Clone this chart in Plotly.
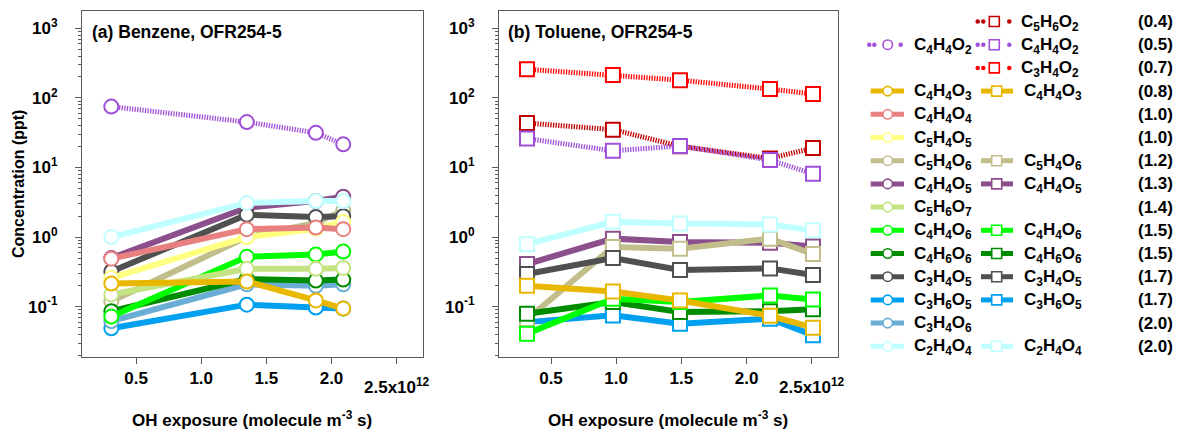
import re
import plotly.graph_objects as go

# ---------------- data ----------------
# Panel (a) Benzene, OFR254-5 : OH exposure (1e12 molecule cm-3 s)
x_benzene = [0.31, 1.35, 1.88, 2.09]
a_C4H4O2 = [75, 45, 31.5, 21.5]
a_C2H4O4 = [1.0, 3.1, 3.3, 3.3]
a_C4H4O5 = [0.50, 2.65, 3.3, 3.8]
a_C3H4O5 = [0.32, 2.1, 1.95, 2.0]
a_C5H4O6 = [0.12, 1.0, 1.6, 2.4]
a_C4H4O4 = [0.49, 1.3, 1.37, 1.3]
a_C5H4O5 = [0.26, 1.0, 1.32, 1.65]
a_C5H6O7 = [0.15, 0.35, 0.35, 0.36]
a_C4H4O6 = [0.072, 0.52, 0.56, 0.62]
a_C4H4O3 = [0.215, 0.23, 0.123, 0.094]
a_C4H6O6 = [0.086, 0.25, 0.237, 0.245]
a_C3H4O6 = [0.062, 0.21, 0.20, 0.21]
a_C3H6O5 = [0.049, 0.107, 0.097, 0.094]

# Panel (b) Toluene, OFR254-5
x_toluene = [0.316, 0.975, 1.49, 2.18, 2.51]
b_C5H6O2 = [43.5, 35, 20.2, 13.5, 19]
b_C4H4O2 = [26, 17.4, 20.4, 12.8, 8.1]
b_C3H4O2 = [258, 214, 180, 134, 114]
b_C4H4O3 = [0.20, 0.165, 0.123, 0.074, 0.05]
b_C5H4O6 = [0.066, 0.72, 0.68, 0.95, 0.57]
b_C4H4O5 = [0.41, 0.95, 0.85, 0.83, 0.73]
b_C4H4O6 = [0.041, 0.13, 0.117, 0.145, 0.127]
b_C4H6O6 = [0.079, 0.117, 0.084, 0.086, 0.092]
b_C3H4O5 = [0.295, 0.5, 0.336, 0.355, 0.285]
b_C3H6O5 = [0.060, 0.075, 0.057, 0.067, 0.039]
b_C2H4O4 = [0.79, 1.66, 1.57, 1.52, 1.25]

legend_formulas = ["C5H6O2", "C4H4O2", "C3H4O2", "C4H4O3", "C4H4O4", "C5H4O5",
                   "C5H4O6", "C4H4O5", "C5H6O7", "C4H4O6", "C4H6O6", "C3H4O5",
                   "C3H6O5", "C3H4O6", "C2H4O4"]
legend_numbers = ["(0.4)", "(0.5)", "(0.7)", "(0.8)", "(1.0)", "(1.0)", "(1.2)",
                  "(1.3)", "(1.4)", "(1.5)", "(1.5)", "(1.7)", "(1.7)", "(2.0)", "(2.0)"]

x_ticks = [0.5, 1.0, 1.5, 2.0, 2.5]
x_ticktext = ["0.5", "1.0", "1.5", "2.0", ""]
y_ticks = [0.1, 1, 10, 100, 1000]
y_ticktext = ["10<sup>-1</sup>", "10<sup>0</sup>", "10<sup>1</sup>", "10<sup>2</sup>", "10<sup>3</sup>"]

# ---------------- styles ----------------
colors = {
    "C5H6O2": "#C00000", "C4H4O2": "#A050D8", "C3H4O2": "#FF0000",
    "C4H4O3": "#E8B800", "C4H4O4": "#E88080", "C5H4O5": "#FFFF80",
    "C5H4O6": "#C2BE8C", "C4H4O5": "#8B4F8B", "C5H6O7": "#C4E484",
    "C4H4O6": "#00FF00", "C4H6O6": "#008C00", "C3H4O5": "#505050",
    "C3H6O5": "#00A0F0", "C3H4O6": "#6AAED6", "C2H4O4": "#C0FFFF",
}
dotted_species = {"C5H6O2", "C4H4O2", "C3H4O2"}

benzene = {"C4H4O2": a_C4H4O2, "C2H4O4": a_C2H4O4, "C4H4O5": a_C4H4O5,
           "C3H4O5": a_C3H4O5, "C5H4O6": a_C5H4O6, "C4H4O4": a_C4H4O4,
           "C5H4O5": a_C5H4O5, "C5H6O7": a_C5H6O7, "C4H4O6": a_C4H4O6,
           "C4H4O3": a_C4H4O3, "C4H6O6": a_C4H6O6, "C3H4O6": a_C3H4O6,
           "C3H6O5": a_C3H6O5}
toluene = {"C5H6O2": b_C5H6O2, "C4H4O2": b_C4H4O2, "C3H4O2": b_C3H4O2,
           "C4H4O3": b_C4H4O3, "C5H4O6": b_C5H4O6, "C4H4O5": b_C4H4O5,
           "C4H4O6": b_C4H4O6, "C4H6O6": b_C4H6O6, "C3H4O5": b_C3H4O5,
           "C3H6O5": b_C3H6O5, "C2H4O4": b_C2H4O4}

order_a = ["C3H6O5", "C3H4O6", "C5H4O6", "C4H6O6", "C4H4O6", "C5H6O7", "C4H4O5",
           "C3H4O5", "C5H4O5", "C4H4O4", "C2H4O4", "C4H4O3", "C4H4O2"]
order_b = ["C3H6O5", "C4H4O5", "C5H4O6", "C4H6O6", "C4H4O6", "C3H4O5", "C2H4O4",
           "C4H4O3", "C5H6O2", "C4H4O2", "C3H4O2"]

W, H = 1178, 429
FONT = "Liberation Sans, Arial, sans-serif"
AXC = "#5a5a5a"


def fx(p):
    return p / W


def fy(p):
    return 1 - p / H


def sub(formula):
    return re.sub(r"(\d+)", r"<sub>\1</sub>", formula)


fig = go.Figure()

for data, xv, order, sym, xa, ya in [(benzene, x_benzene, order_a, "circle", "x", "y"),
                                     (toluene, x_toluene, order_b, "square", "x2", "y2")]:
    for name in order:
        c = colors[name]
        if name in dotted_species:
            line = dict(color=c, width=5, dash="1.3px,1.3px")
        else:
            line = dict(color=c, width=6)
        fig.add_trace(go.Scatter(
            x=xv, y=data[name], mode="lines+markers", xaxis=xa, yaxis=ya,
            line=line, showlegend=False, hoverinfo="skip",
            marker=dict(symbol=sym, size=14, color="white", line=dict(color=c, width=2)),
        ))

# ---------------- custom legend (pixel-coordinate overlay axis) ----------------
row0, row_step = 21.5, 23.2
annotations = []
LEGFONT = dict(family=FONT, size=17, color="black", weight="bold")
for i, name in enumerate(legend_formulas):
    ry = row0 + row_step * i
    c = colors[name]
    dotted = name in dotted_species
    cols = []
    if name in benzene:
        cols.append(("circle", 887.7, 870.7, 904, 911.7, 9.5, [-18.4, -13.4, 13.0]))
    if name in toluene:
        if dotted:
            cols.append(("square", 994.3, 981, 1013, 1019, 10, [-16.6, -11.0, 15.0]))
        else:
            cols.append(("square", 996.7, 981, 1013, 1022, 10, None))
    for sym, mx, lx0, lx1, tx, msz, dots in cols:
        if dotted:
            fig.add_trace(go.Scatter(
                x=[mx + d for d in dots], y=[ry] * len(dots), mode="markers",
                xaxis="x3", yaxis="y3", showlegend=False, hoverinfo="skip",
                marker=dict(symbol="circle", size=4.5, color=c, line=dict(width=0))))
        else:
            fig.add_trace(go.Scatter(
                x=[lx0, lx1], y=[ry, ry], mode="lines", xaxis="x3", yaxis="y3",
                showlegend=False, hoverinfo="skip", line=dict(color=c, width=5)))
        fig.add_trace(go.Scatter(
            x=[mx], y=[ry], mode="markers", xaxis="x3", yaxis="y3",
            showlegend=False, hoverinfo="skip",
            marker=dict(symbol=sym, size=msz, color="white", line=dict(color=c, width=1.6))))
        annotations.append(dict(
            x=tx, y=ry + 1, xref="x3", yref="y3", xanchor="left", yanchor="middle",
            text=sub(name), showarrow=False, font=LEGFONT))
    annotations.append(dict(
        x=1175, y=ry, xref="x3", yref="y3", xanchor="right", yanchor="middle",
        text=legend_numbers[i], showarrow=False, font=LEGFONT))

# ---------------- axes ----------------
TICKFONT = dict(family=FONT, size=17, color="black", weight="bold")
ydom = [fy(357), fy(10.7)]
common_x = dict(
    tickmode="array", tickvals=x_ticks, ticktext=x_ticktext, ticks="outside",
    ticklen=6, tickwidth=1, tickcolor=AXC, showline=True, linecolor=AXC, linewidth=1,
    mirror=True, showgrid=False, zeroline=False, automargin=False,
    ticklabelstandoff=0, tickfont=TICKFONT,
)
common_y = dict(
    type="log", domain=ydom, range=[-1.723, 3.253], tickmode="array",
    tickvals=y_ticks, ticktext=y_ticktext, ticks="outside", ticklen=6, tickwidth=1,
    tickcolor=AXC, showline=True, linecolor=AXC, linewidth=1, mirror=True,
    showgrid=False, zeroline=False, ticklabelstandoff=14, automargin=False,
    tickfont=TICKFONT,
    minor=dict(ticks="outside", ticklen=3, tickcolor=AXC, dtick="D1", showgrid=False),
)

fig.update_layout(
    width=W, height=H, margin=dict(l=0, r=0, t=0, b=0, autoexpand=False),
    paper_bgcolor="white", plot_bgcolor="white", showlegend=False,
    xaxis=dict(domain=[fx(82), fx(422.7)], range=[0.085, 2.70], anchor="y", **common_x),
    yaxis=dict(anchor="x", **common_y),
    xaxis2=dict(domain=[fx(499), fx(838)], range=[0.101, 2.702], anchor="y2", **common_x),
    yaxis2=dict(anchor="x2", **common_y),
    xaxis3=dict(domain=[fx(850), 1], range=[850, 1178], visible=False, anchor="y3",
                fixedrange=True, automargin=False),
    yaxis3=dict(domain=[0, 1], range=[429, 0], visible=False, anchor="x3",
                fixedrange=True, automargin=False),
)

# titles and labels
for xa, cx, label, lx in [("x", 252, "(a) Benzene, OFR254-5", 90),
                          ("x2", 668, "(b) Toluene, OFR254-5", 505.7)]:
    annotations.append(dict(x=fx(lx), y=fy(32), xref="paper", yref="paper",
                            xanchor="left", yanchor="middle", text=label, showarrow=False,
                            font=dict(family=FONT, size=17.5, color="black", weight="bold")))
    annotations.append(dict(x=fx(cx), y=fy(418.5), xref="paper", yref="paper",
                            xanchor="center", yanchor="middle",
                            text="OH exposure (molecule m<sup>-3</sup> s)", showarrow=False,
                            font=dict(family=FONT, size=17, color="black", weight="bold")))
    annotations.append(dict(x=2.5, y=fy(373), xref=xa, yref="paper",
                            xanchor="center", yanchor="top",
                            text="2.5x10<sup>12</sup>", showarrow=False,
                            font=dict(family=FONT, size=17, color="black", weight="bold")))

annotations.append(dict(x=fx(18), y=fy(184), xref="paper", yref="paper",
                        xanchor="center", yanchor="middle", textangle=-90,
                        text="Concentration (ppt)", showarrow=False,
                        font=dict(family=FONT, size=16, color="black", weight="bold")))

fig.update_layout(annotations=annotations)
fig.write_html("out.html", config={"displayModeBar": False},
               post_script="document.body.style.margin='0';document.body.style.overflow='hidden';")
